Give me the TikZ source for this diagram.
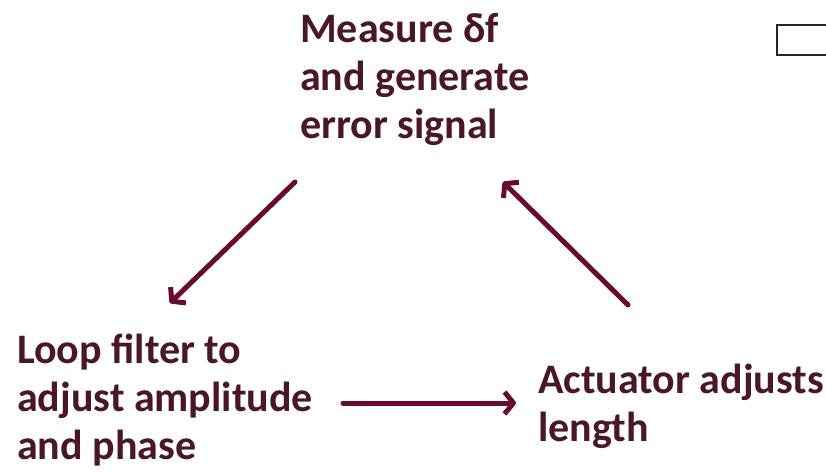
\documentclass[tikz,border=0pt]{standalone}
\usepackage{fontspec}
\setmainfont{Carlito}
\usetikzlibrary{arrows.meta}
\definecolor{txtc}{HTML}{4A1628}
\definecolor{arrc}{HTML}{690B30}
\tikzset{
  lbl/.style={anchor=base west, inner sep=0pt, text=txtc, font=\fontsize{42}{48}\selectfont\bfseries, align=left},
  conn/.style={draw=arrc, line width=5pt, line cap=round, -{Straight Barb[length=9pt,width=22pt,line join=round]}}
}
\begin{document}
\begin{tikzpicture}[x=1pt,y=-1pt]
\useasboundingbox (0,0) rectangle (826,471);
\node[lbl] (m1) at (300,42) {Measure δf};
\node[lbl] (m2) at (300,90) {and generate};
\node[lbl] (m3) at (300,138) {error signal};
\node[lbl] (l1) at (17,363) {Loop filter to};
\node[lbl] (l2) at (17,411) {adjust amplitude};
\node[lbl] (l3) at (17,459) {and phase};
\node[lbl] (r1) at (538,393) {Actuator adjusts};
\node[lbl] (r2) at (538,441) {length};
\coordinate (a1s) at (295,182);
\coordinate (a1e) at (170,303);
\coordinate (a2s) at (628,305);
\coordinate (a2e) at (503,182);
\coordinate (a3s) at (343,403);
\coordinate (a3e) at (516,403);
\draw[conn] (a1s) -- (a1e);
\draw[conn] (a2s) -- (a2e);
\draw[conn] (a3s) -- (a3e);
\draw[line width=2pt, draw=black!85] (830,25) -- (777,25) -- (777,55) -- (830,55);
\end{tikzpicture}
\end{document}
